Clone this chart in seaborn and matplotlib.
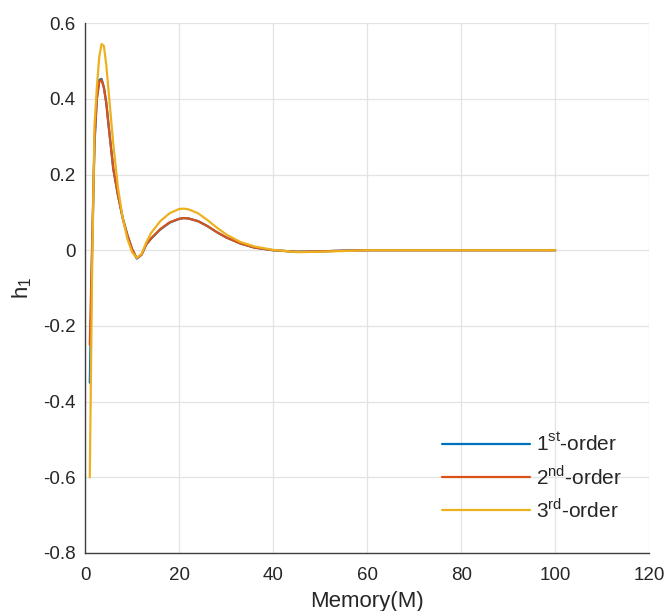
import numpy as np
import pandas as pd
import seaborn as sns
from matplotlib import pyplot as plt

# memory lag (M) sample points
memory = [1, 1.5, 2, 2.5, 3, 3.5, 4, 4.5, 5, 6, 7, 8, 9, 10, 11, 12, 13, 14,
          16, 18, 20, 21, 22, 24, 26, 28, 30, 33, 36, 40, 45, 50, 55, 60,
          70, 80, 90, 100]

h1_first = [-0.35, 0.0, 0.28, 0.40, 0.45, 0.453, 0.43, 0.39, 0.33, 0.215,
            0.145, 0.085, 0.04, 0.003, -0.022, -0.012, 0.015, 0.03,
            0.055, 0.073, 0.083, 0.085, 0.084, 0.077, 0.064, 0.048, 0.034,
            0.018, 0.007, 0.0, -0.004, -0.003, -0.001, 0.0,
            0.0, 0.0, 0.0, 0.0]

h1_second = [-0.25, 0.02, 0.29, 0.40, 0.445, 0.45, 0.43, 0.39, 0.33, 0.215,
             0.145, 0.085, 0.04, 0.003, -0.021, -0.012, 0.015, 0.031,
             0.056, 0.074, 0.083, 0.085, 0.084, 0.077, 0.064, 0.048, 0.034,
             0.018, 0.007, 0.0, -0.004, -0.003, -0.001, 0.0,
             0.0, 0.0, 0.0, 0.0]

h1_third = [-0.6, -0.05, 0.33, 0.43, 0.51, 0.545, 0.54, 0.49, 0.42, 0.28,
            0.165, 0.085, 0.03, -0.005, -0.02, -0.01, 0.02, 0.045,
            0.077, 0.098, 0.109, 0.11, 0.108, 0.098, 0.08, 0.06, 0.042,
            0.022, 0.01, 0.001, -0.005, -0.004, -0.002, 0.0,
            0.0, 0.0, 0.0, 0.0]

labels = [r'1$^{\rm st}$-order', r'2$^{\rm nd}$-order', r'3$^{\rm rd}$-order']
colors = ['#0072BD', '#D95319', '#EDB120']

df = pd.DataFrame({
    'Memory': memory * 3,
    'h1': h1_first + h1_second + h1_third,
    'order': [labels[0]] * len(memory) + [labels[1]] * len(memory) + [labels[2]] * len(memory),
})

sns.set_theme(style='white')
plt.rcParams['font.family'] = ['Liberation Sans', 'DejaVu Sans']
plt.rcParams['mathtext.fontset'] = 'custom'
plt.rcParams['mathtext.rm'] = 'Liberation Sans'

fig = plt.figure(figsize=(6.7, 6.11), dpi=100)
ax = fig.add_axes([0.127, 0.095, 0.842, 0.867])

sns.lineplot(data=df, x='Memory', y='h1', hue='order', hue_order=labels,
             palette=colors, linewidth=1.6, sort=False, ax=ax)

ax.set_xlim(0, 120)
ax.set_ylim(-0.8, 0.6)
ax.set_xticks(np.arange(0, 121, 20))
ax.set_yticks(np.round(np.arange(-0.8, 0.61, 0.2), 1))
ax.set_yticklabels(['-0.8', '-0.6', '-0.4', '-0.2', '0', '0.2', '0.4', '0.6'])
ax.grid(True, color='#e3e3e3', linewidth=0.9)
ax.set_axisbelow(True)

for s in ['top', 'right']:
    ax.spines[s].set_visible(False)
for s in ['left', 'bottom']:
    ax.spines[s].set_color('#404040')
    ax.spines[s].set_linewidth(1.0)

ax.tick_params(direction='in', length=5, width=0.8, color='#404040',
               labelsize=13.5, labelcolor='#262626')
ax.tick_params(axis='x', pad=10)
ax.tick_params(axis='y', pad=7)
ax.set_xlabel('Memory(M)', fontsize=16, color='#262626', labelpad=5)
ax.set_ylabel(r'h$_{\rm 1}$', fontsize=16, color='#262626', labelpad=6)

leg = ax.legend(loc='lower right', frameon=False, fontsize=15,
                handlelength=4.2, handletextpad=0.3, labelspacing=0.45,
                borderpad=0, bbox_to_anchor=(0.97, 0.04))
for line in leg.get_lines():
    line.set_linewidth(1.6)

fig.savefig('out.png', dpi=100, facecolor='white')
